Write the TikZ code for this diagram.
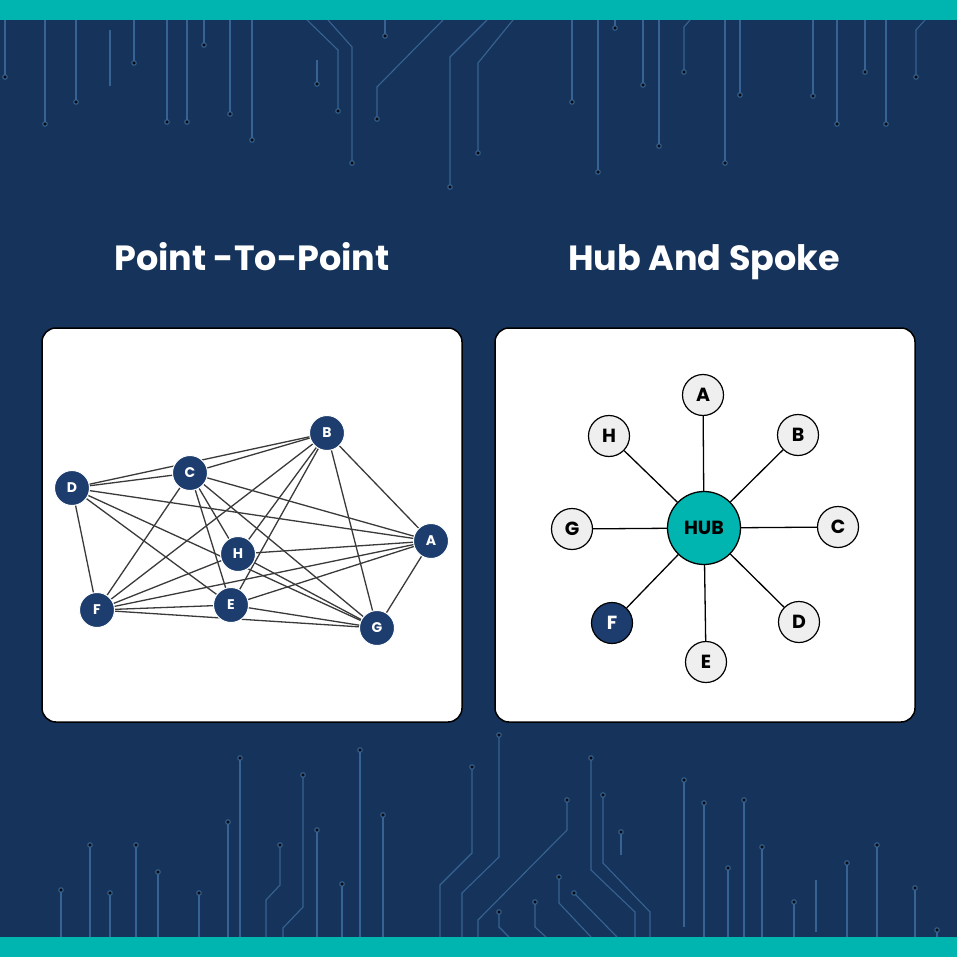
\documentclass[tikz,border=0pt]{standalone}
\usepackage{fontspec}
\setmainfont{Poppins}
\definecolor{navybg}{HTML}{16345B}
\definecolor{tealband}{HTML}{00B5B0}
\definecolor{nodenavy}{HTML}{1C3D6E}
\definecolor{trace}{HTML}{3D6C9C}
\definecolor{spokefill}{HTML}{EFEFEF}
\definecolor{edgegrey}{HTML}{3A3A3A}
\pgfdeclarelayer{backdrop}
\pgfdeclarelayer{linklayer}
\pgfsetlayers{backdrop,linklayer,main}
\tikzset{
  title/.style={text=white, anchor=base, font=\bfseries\fontsize{35}{35}\selectfont},
  panel/.style={draw=black, fill=white, line width=1.5pt, rounded corners=14pt},
  link/.style={draw=edgegrey, line width=1.3pt},
  trace/.style={draw=trace, line width=1.1pt, opacity=0.85},
  ptnode/.style={circle, fill=nodenavy, draw=white, line width=1pt, minimum size=35pt, inner sep=0pt, text=white, font=\bfseries\fontsize{14}{14}\selectfont},
  spoke/.style={circle, fill=spokefill, draw=black, line width=1.2pt, minimum size=41pt, inner sep=0pt, text=black, font=\bfseries\fontsize{19}{19}\selectfont},
  hubnode/.style={circle, fill=tealband, draw=black, line width=1.3pt, minimum size=73pt, inner sep=0pt, text=black, font=\bfseries\fontsize{19}{19}\selectfont},
}
\begin{document}
\begin{tikzpicture}[x=1pt, y=-1pt]
\useasboundingbox (0,0) rectangle (957,957);
\begin{pgfonlayer}{backdrop}
% Background and bands
\fill[navybg] (0,0) rectangle (957,957);
\fill[tealband] (0,0) rectangle (957,20);
\fill[tealband] (0,937) rectangle (957,957);
% Circuit traces at the top
\foreach \x/\y in {5/77, 45/124, 76/102, 134/63, 167/122, 187/122, 204/45, 230/114, 252/140, 385/36, 572/102, 598/172, 615/28, 643/85, 659/146, 725/163, 740/95, 813/96, 837/124, 865/72, 886/124}
  {\draw[trace] (\x,20) -- (\x,\y); \fill[trace] (\x,\y) circle [radius=2.2];}
\draw[trace] (110,30) -- (110,86);
\draw[trace] (317,60) -- (317,84); \fill[trace] (317,84) circle [radius=2.2];
\draw[trace] (307,20) -- (338,50) -- (338,111); \fill[trace] (338,111) circle [radius=2.2];
\draw[trace] (328,20) -- (352,47) -- (352,163); \fill[trace] (352,163) circle [radius=2.2];
\draw[trace] (443,20) -- (377,87) -- (377,119); \fill[trace] (377,119) circle [radius=2.2];
\draw[trace] (487,20) -- (450,57) -- (450,187); \fill[trace] (450,187) circle [radius=2.2];
\draw[trace] (513,20) -- (478,63) -- (478,153); \fill[trace] (478,153) circle [radius=2.2];
\draw[trace] (690,20) -- (684,27) -- (684,72); \fill[trace] (684,72) circle [radius=2.2];
\draw[trace] (925,20) -- (916,30) -- (916,77); \fill[trace] (916,77) circle [radius=2.2];
% Circuit traces at the bottom
\foreach \x/\y in {61/890, 90/845, 110/893, 136/845, 158/872, 199/893, 228/822, 240/758, 317/830, 342/884, 360/750, 383/815, 704/803, 728/868, 744/800, 762/847, 794/902, 847/863, 877/845, 915/888, 937/930}
  {\draw[trace] (\x,937) -- (\x,\y); \fill[trace] (\x,\y) circle [radius=2.2];}
\draw[trace] (684,927) -- (684,780); \fill[trace] (684,780) circle [radius=2.2];
\draw[trace] (816,932) -- (816,880);
\draw[trace] (621,832) -- (621,855); \fill[trace] (621,832) circle [radius=2.2];
\draw[trace] (266,937) -- (266,900) -- (280,885) -- (280,845); \fill[trace] (280,845) circle [radius=2.2];
\draw[trace] (283,937) -- (283,928) -- (303,907) -- (303,775); \fill[trace] (303,775) circle [radius=2.2];
\draw[trace] (440,937) -- (440,885) -- (472,853) -- (472,767); \fill[trace] (472,767) circle [radius=2.2];
\draw[trace] (462,937) -- (462,893) -- (499,857) -- (499,735); \fill[trace] (499,735) circle [radius=2.2];
\draw[trace] (478,937) -- (478,920) -- (567,830) -- (567,800); \fill[trace] (567,800) circle [radius=2.2];
\draw[trace] (509,937) -- (499,927) -- (499,912); \fill[trace] (499,912) circle [radius=2.2];
\draw[trace] (546,937) -- (535,927) -- (535,902); \fill[trace] (535,902) circle [radius=2.2];
\draw[trace] (591,937) -- (559,903) -- (559,877); \fill[trace] (559,877) circle [radius=2.2];
\draw[trace] (617,937) -- (574,893); \fill[trace] (574,893) circle [radius=2.2];
\draw[trace] (635,937) -- (635,912) -- (591,870) -- (591,758); \fill[trace] (591,758) circle [radius=2.2];
\draw[trace] (650,937) -- (650,912) -- (603,863) -- (603,795); \fill[trace] (603,795) circle [radius=2.2];
% Panels
\draw[panel] (42,328) rectangle (462,722);
\draw[panel] (495,328) rectangle (915,722);
\end{pgfonlayer}
% Titles
\node[title] (pttitle) at (252,271) {Point -To-Point};
\node[title] (hstitle) at (704,271) {Hub And Spoke};
% Point-to-point nodes
\node[ptnode] (pA) at (431,541) {A};
\node[ptnode] (pB) at (327,433) {B};
\node[ptnode] (pC) at (190,473) {C};
\node[ptnode] (pD) at (72,488) {D};
\node[ptnode] (pE) at (231,605) {E};
\node[ptnode] (pF) at (97,610) {F};
\node[ptnode] (pG) at (377,628) {G};
\node[ptnode] (pH) at (238,554) {H};
% Point-to-point links, kept under the nodes
\begin{pgfonlayer}{linklayer}
\foreach \a/\b in {A/B, A/C, A/D, A/H, A/F, A/E, A/G, B/C, B/D, B/F, B/H, B/E, B/G, C/D, C/F, C/E, C/H, C/G, D/E, D/G, D/F, E/F, E/G, F/H, F/G, H/G}
  \draw[link] (p\a.center) -- (p\b.center);
\end{pgfonlayer}
% Hub and spoke
\node[hubnode] (hub) at (704,528) {HUB};
\node[spoke] (sA) at (703,395) {A};
\node[spoke] (sB) at (798,435) {B};
\node[spoke] (sC) at (838,527) {C};
\node[spoke] (sD) at (799,622) {D};
\node[spoke] (sE) at (706,662) {E};
\node[spoke, fill=nodenavy, text=white] (sF) at (612,623) {F};
\node[spoke] (sG) at (572,529) {G};
\node[spoke] (sH) at (609,436) {H};
\foreach \s in {A,B,C,D,E,F,G,H}
  \draw[line width=1.3pt] (hub) -- (s\s);
\end{tikzpicture}
\end{document}
